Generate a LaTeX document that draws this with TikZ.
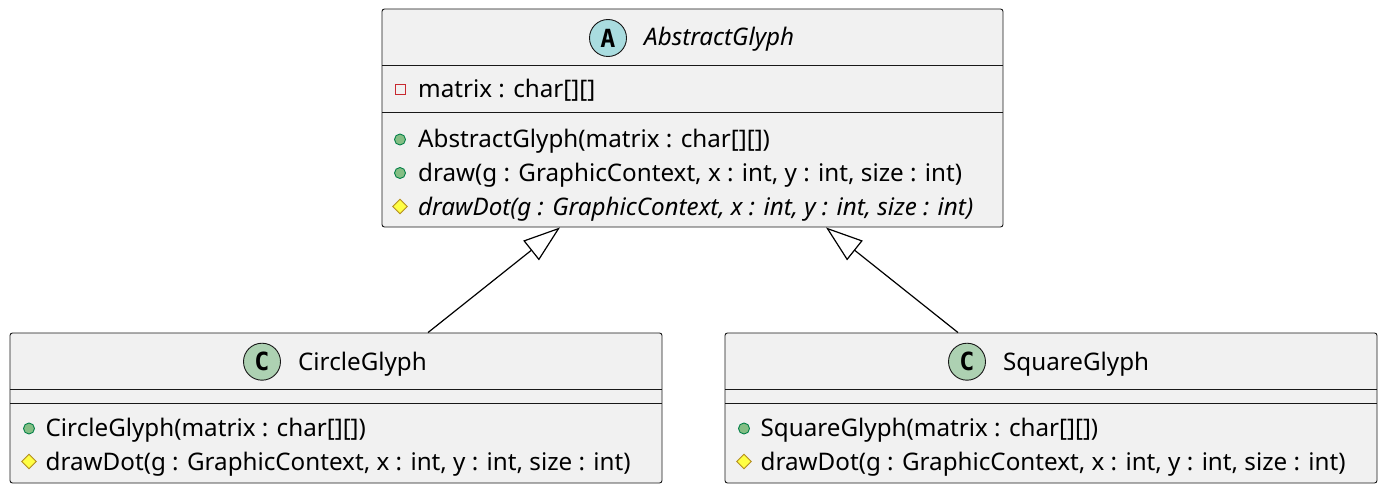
\documentclass[tikz,border=0pt]{standalone}
\usepackage{fontspec}
\setmainfont{Noto Sans}
\newfontfamily\spotfamily{DejaVu Sans Mono}
\usetikzlibrary{arrows.meta,positioning,shapes.geometric}

\definecolor{umlfill}{HTML}{F1F1F1}
\definecolor{umlline}{HTML}{181818}
\definecolor{absspot}{HTML}{A9DCDF}
\definecolor{clsspot}{HTML}{ADD1B2}
\definecolor{publine}{HTML}{038048}
\definecolor{pubfill}{HTML}{84BE84}
\definecolor{privline}{HTML}{C82930}
\definecolor{protline}{HTML}{B38D22}
\definecolor{protfill}{HTML}{FFFF44}

\newcommand{\membfont}{\fontsize{24.2}{30}\selectfont}
\newcommand{\spotfont}{\spotfamily\bfseries\fontsize{25}{25}\selectfont}

\tikzset{
  classbox/.style={draw=umlline, fill=umlfill, rounded corners=2.5pt, line width=0.9pt, inner sep=0pt},
  member/.style={anchor=base west, inner sep=0pt, font=\membfont},
  spot/.style={circle, draw=umlline, line width=0.9pt, minimum size=37pt, inner sep=0pt, font=\spotfont},
  pub/.style={circle, draw=publine, fill=pubfill, minimum size=11pt, inner sep=0pt, line width=0.9pt},
  priv/.style={rectangle, draw=privline, minimum size=10pt, inner sep=0pt, line width=1pt},
  prot/.style={diamond, draw=protline, fill=protfill, minimum size=15pt, inner sep=0pt, line width=0.9pt},
  sepline/.style={draw=umlline, line width=0.9pt},
  inherit/.style={-{Triangle[open, length=37pt, width=25pt]}, line width=1.2pt, black}
}

\begin{document}
\begin{tikzpicture}[x=1pt,y=-1pt]
\useasboundingbox (0,0) rectangle (1384,484);

% abstract class
\node [classbox, minimum width=621pt, minimum height=218pt] (abstract) at (692.5,118) {};
\node [spot, fill=absspot] (abstractspot) at (608,38) {A};
\node [member, font=\membfont\itshape] (abstracttitle) at (644,45.7) {AbstractGlyph};
\draw [sepline] (382,65) -- (1003,65);
\draw [sepline] (382,112.3) -- (1003,112.3);
\node [priv] (matrixicon) at (400.5,89.5) {};
\node [member] (matrixfield) at (418,97.7) {matrix : char[][]};
\node [pub] (ctoricon) at (400,139.5) {};
\node [member] (ctor) at (418,147.7) {AbstractGlyph(matrix : char[][])};
\node [pub] (drawicon) at (400,173) {};
\node [member] (draw) at (418,181.5) {draw(g : GraphicContext, x : int, y : int, size : int)};
\node [prot] (doticon) at (400,206.5) {};
\node [member, font=\membfont\itshape] (drawdot) at (418,215.2) {drawDot(g : GraphicContext, x : int, y : int, size : int)};

% circle glyph
\node [classbox, minimum width=652pt, minimum height=150pt] (circ) at (336,408) {};
\node [spot, fill=clsspot] (circspot) at (262,361.7) {C};
\node [member] (circtitle) at (298,370.7) {CircleGlyph};
\draw [sepline] (10,389.3) -- (662,389.3);
\draw [sepline] (10,403.3) -- (662,403.3);
\node [pub] (circctoricon) at (29,428.5) {};
\node [member] (circctor) at (45.5,436.7) {CircleGlyph(matrix : char[][])};
\node [prot] (circdoticon) at (29,461.5) {};
\node [member] (circdot) at (45.5,470) {drawDot(g : GraphicContext, x : int, y : int, size : int)};

% square glyph
\node [classbox, minimum width=652pt, minimum height=150pt] (squ) at (1051,408) {};
\node [spot, fill=clsspot] (squspot) at (967,361.7) {C};
\node [member] (squtitle) at (1003,370.7) {SquareGlyph};
\draw [sepline] (725,389.3) -- (1377,389.3);
\draw [sepline] (725,403.3) -- (1377,403.3);
\node [pub] (squctoricon) at (744,428.5) {};
\node [member] (squctor) at (760.5,436.7) {SquareGlyph(matrix : char[][])};
\node [prot] (squdoticon) at (744,461.5) {};
\node [member] (squdot) at (760.5,470) {drawDot(g : GraphicContext, x : int, y : int, size : int)};

% inheritance
\draw [inherit] ([xshift=92pt]circ.north) -- ([xshift=-132.5pt]abstract.south);
\draw [inherit] ([xshift=-93pt]squ.north) -- ([xshift=133.5pt]abstract.south);
\end{tikzpicture}
\end{document}
